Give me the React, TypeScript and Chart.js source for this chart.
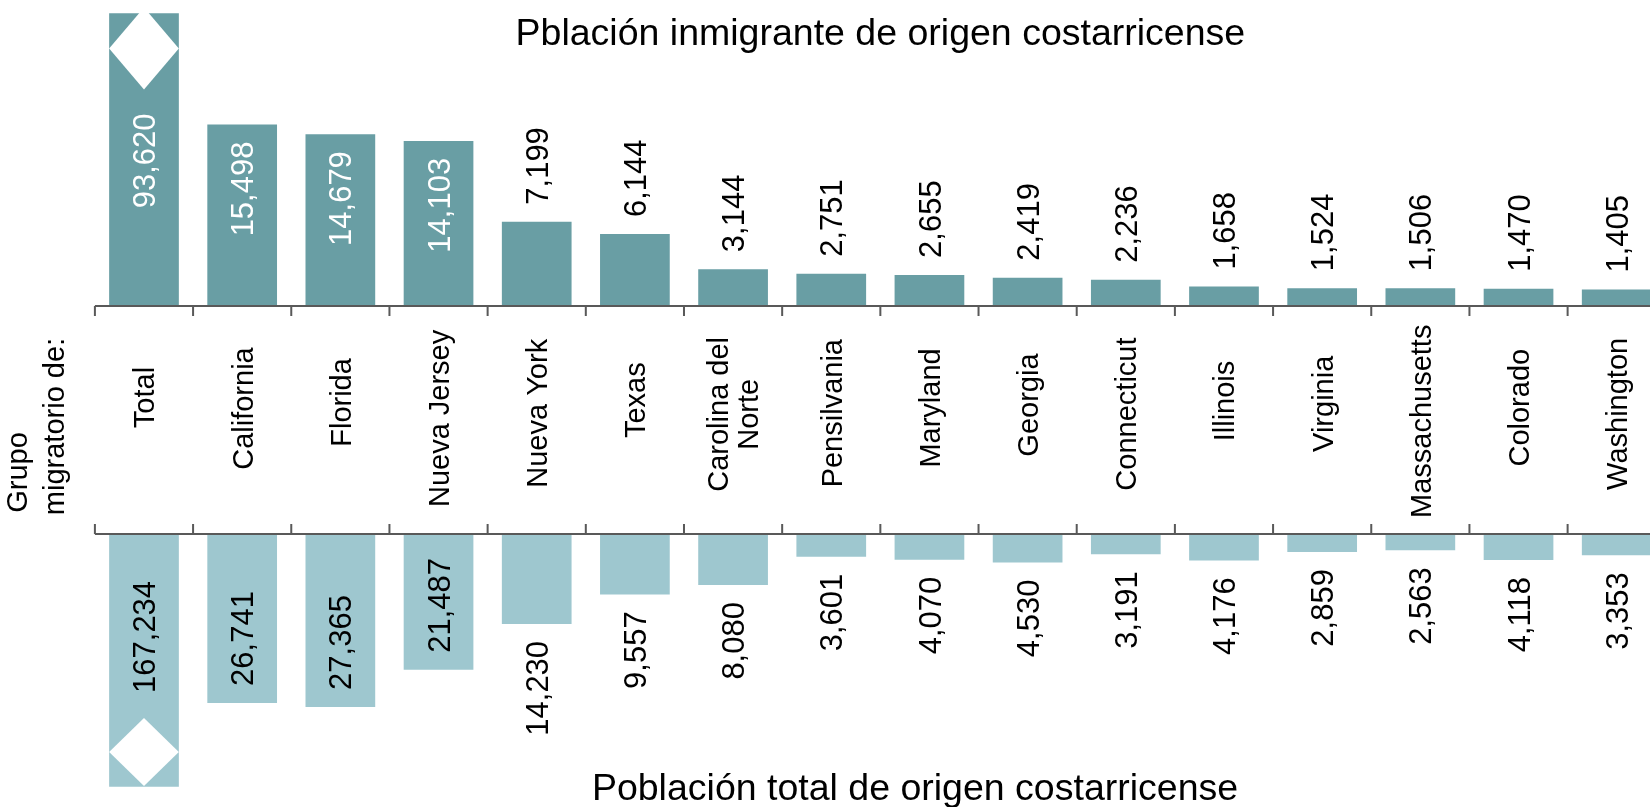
import React, { useEffect, useRef } from "react";
import { Chart, registerables } from "chart.js";

Chart.register(...registerables);

// ---------- data ----------
const categories: (string | string[])[] = [
  "Total",
  "California",
  "Florida",
  "Nueva Jersey",
  "Nueva York",
  "Texas",
  ["Carolina del", "Norte"],
  "Pensilvania",
  "Maryland",
  "Georgia",
  "Connecticut",
  "Illinois",
  "Virginia",
  "Massachusetts",
  "Colorado",
  "Washington",
];
const immigrantValues = [93620, 15498, 14679, 14103, 7199, 6144, 3144, 2751, 2655, 2419, 2236, 1658, 1524, 1506, 1470, 1405];
const totalValues = [167234, 26741, 27365, 21487, 14230, 9557, 8080, 3601, 4070, 4530, 3191, 4176, 2859, 2563, 4118, 3353];

const topTitle = "Pblación inmigrante de origen costarricense";
const bottomTitle = "Población total de origen costarricense";
const axisLabelLines = ["Grupo", "migratorio de:"];

// axis ranges and break markers (values)
const TOP_MAX = 25000;
const BOTTOM_MAX = 40000;
const TOP_BREAK = 22000;
const BOTTOM_BREAK = 34500;

// ---------- layout / style ----------
const W = 1720;
const H = 807;
const PLOT_LEFT = 94.9;
const PLOT_RIGHT = 1665.8;
const PLOT_TOP = 13.3;
const PLOT_BOTTOM = 786.7;
const AXIS_TOP = 306;
const AXIS_BOTTOM = 534;

const TOP_COLOR = "#699EA4";
const BOTTOM_COLOR = "#9EC7CF";
const AXIS_COLOR = "#595959";
const FONT = '"Liberation Sans", Arial, sans-serif';
const VAL_FS = 31;
const CAT_FS = 29;
const TITLE_FS = 37.5;
const GAP = 17;

const fmt = (v: number) => v.toLocaleString("en-US");

function drawRot(
  ctx: CanvasRenderingContext2D,
  text: string,
  cx: number,
  y: number,
  align: CanvasTextAlign,
  color: string,
  fs: number
) {
  ctx.save();
  ctx.font = `${fs}px ${FONT}`;
  ctx.translate(cx + 0.358 * fs, y);
  ctx.rotate(-Math.PI / 2);
  ctx.textAlign = align;
  ctx.textBaseline = "alphabetic";
  ctx.fillStyle = color;
  ctx.fillText(text, 0, 0);
  ctx.restore();
}

const overlayPlugin = {
  id: "overlay",
  afterDatasetsDraw(chart: any) {
    const ctx: CanvasRenderingContext2D = chart.ctx;
    const xs = chart.scales.x;
    const yT = chart.scales.yTop;
    const yB = chart.scales.yBot;
    const area = chart.chartArea;
    const topBars = chart.getDatasetMeta(0).data;
    const botBars = chart.getDatasetMeta(1).data;
    const y0T = yT.getPixelForValue(0);
    const y0B = yB.getPixelForValue(0);
    const catW = xs.getPixelForValue(1) - xs.getPixelForValue(0);

    // break diamonds on the Total bars
    const drawDiamond = (cx: number, cy: number, hw: number, hh: number) => {
      ctx.save();
      ctx.fillStyle = "#ffffff";
      ctx.beginPath();
      ctx.moveTo(cx, cy - hh);
      ctx.lineTo(cx + hw, cy);
      ctx.lineTo(cx, cy + hh);
      ctx.lineTo(cx - hw, cy);
      ctx.closePath();
      ctx.fill();
      ctx.restore();
    };
    const b0 = topBars[0];
    const dTopY = yT.getPixelForValue(TOP_BREAK);
    const dTopHH = 41;
    drawDiamond(b0.x, dTopY, b0.width / 2, dTopHH);
    const c0 = botBars[0];
    const dBotY = yB.getPixelForValue(BOTTOM_BREAK);
    const dBotHH = 34;
    drawDiamond(c0.x, dBotY, c0.width / 2, dBotHH);

    // axis lines and ticks
    ctx.save();
    ctx.strokeStyle = AXIS_COLOR;
    ctx.lineWidth = 2;
    ctx.beginPath();
    ctx.moveTo(area.left, y0T);
    ctx.lineTo(area.right, y0T);
    ctx.moveTo(area.left, y0B);
    ctx.lineTo(area.right, y0B);
    for (let i = 0; i <= categories.length; i++) {
      const bx = xs.getPixelForValue(0) - catW / 2 + i * catW;
      ctx.moveTo(bx, y0T);
      ctx.lineTo(bx, y0T + 10);
      ctx.moveTo(bx, y0B - 10);
      ctx.lineTo(bx, y0B);
    }
    ctx.stroke();
    ctx.restore();

    // value labels
    ctx.save();
    ctx.font = `${VAL_FS}px ${FONT}`;
    for (let i = 0; i < categories.length; i++) {
      const tb = topBars[i];
      const tText = fmt(immigrantValues[i]);
      const tLen = ctx.measureText(tText).width;
      if (i === 0) {
        drawRot(ctx, tText, tb.x, dTopY + dTopHH + 24, "right", "#ffffff", VAL_FS);
      } else if (y0T - tb.y >= tLen + 2 * GAP) {
        drawRot(ctx, tText, tb.x, tb.y + GAP, "right", "#ffffff", VAL_FS);
      } else {
        drawRot(ctx, tText, tb.x, tb.y - GAP, "left", "#000000", VAL_FS);
      }
      const bb = botBars[i];
      const bText = fmt(totalValues[i]);
      const bLen = ctx.measureText(bText).width;
      if (i === 0) {
        drawRot(ctx, bText, bb.x, dBotY - dBotHH - 25, "left", "#000000", VAL_FS);
      } else if (bb.y - y0B >= bLen + 2 * GAP) {
        drawRot(ctx, bText, bb.x, bb.y - GAP, "left", "#000000", VAL_FS);
      } else {
        drawRot(ctx, bText, bb.x, bb.y + GAP, "right", "#000000", VAL_FS);
      }
    }
    ctx.restore();

    // category labels: start-aligned inside a label box wider than the text
    const baseY = 386.5;
    const lineH = 30;
    ctx.save();
    ctx.font = `${CAT_FS}px ${FONT}`;
    for (let i = 0; i < categories.length; i++) {
      const cx = xs.getPixelForValue(i);
      const lab = categories[i];
      const lines = Array.isArray(lab) ? lab : [lab];
      if (lines.length === 1) {
        const L = ctx.measureText(lines[0]).width;
        drawRot(ctx, lines[0], cx, baseY + 0.68 * L, "left", "#000000", CAT_FS);
      } else {
        const Lmax = Math.max(...lines.map((l) => ctx.measureText(l).width));
        const c = baseY + 0.18 * Lmax;
        lines.forEach((ln, k) => {
          const off = (k - (lines.length - 1) / 2) * lineH;
          drawRot(ctx, ln, cx + off, c, "center", "#000000", CAT_FS);
        });
      }
    }
    ctx.restore();

    // left axis label
    ctx.save();
    ctx.font = `${CAT_FS}px ${FONT}`;
    ctx.fillStyle = "#000000";
    ctx.textAlign = "center";
    ctx.textBaseline = "alphabetic";
    const leftPos = [
      { x: 27.4, y: 472.5 },
      { x: 64, y: 426.5 },
    ];
    axisLabelLines.forEach((ln, k) => {
      ctx.save();
      ctx.translate(leftPos[k].x, leftPos[k].y);
      ctx.rotate(-Math.PI / 2);
      ctx.fillText(ln, 0, 0);
      ctx.restore();
    });
    ctx.restore();

    // titles
    ctx.save();
    ctx.font = `${TITLE_FS}px ${FONT}`;
    ctx.fillStyle = "#000000";
    ctx.textAlign = "center";
    ctx.textBaseline = "alphabetic";
    ctx.fillText(topTitle, (area.left + area.right) / 2, 45);
    ctx.fillText(bottomTitle, 915, 800.3);
    ctx.restore();
  },
};

export default function App() {
  const canvasRef = useRef<HTMLCanvasElement | null>(null);

  useEffect(() => {
    if (!canvasRef.current) return;
    const yTopMin = (-TOP_MAX * (PLOT_BOTTOM - AXIS_TOP)) / (AXIS_TOP - PLOT_TOP);
    const yBotMin = (-BOTTOM_MAX * (AXIS_BOTTOM - PLOT_TOP)) / (PLOT_BOTTOM - AXIS_BOTTOM);
    const chart = new Chart(canvasRef.current, {
      type: "bar",
      data: {
        labels: categories as any,
        datasets: [
          {
            label: "Población inmigrante",
            data: immigrantValues,
            yAxisID: "yTop",
            backgroundColor: TOP_COLOR,
            grouped: false,
            barPercentage: 0.71,
            categoryPercentage: 1,
          } as any,
          {
            label: "Población total",
            data: totalValues,
            yAxisID: "yBot",
            backgroundColor: BOTTOM_COLOR,
            grouped: false,
            barPercentage: 0.71,
            categoryPercentage: 1,
          } as any,
        ],
      },
      options: {
        responsive: false,
        animation: false,
        layout: {
          padding: {
            left: PLOT_LEFT,
            right: W - PLOT_RIGHT,
            top: PLOT_TOP,
            bottom: H - PLOT_BOTTOM,
          },
        },
        plugins: {
          legend: { display: false },
          tooltip: { enabled: false },
          title: { display: false },
        },
        scales: {
          x: { display: false, offset: true },
          yTop: { display: false, min: yTopMin, max: TOP_MAX },
          yBot: { display: false, min: yBotMin, max: BOTTOM_MAX, reverse: true },
        },
      },
      plugins: [overlayPlugin],
    });
    return () => chart.destroy();
  }, []);

  return (
    <div
      style={{
        position: "fixed",
        left: 0,
        top: 0,
        width: 1650,
        height: 807,
        overflow: "hidden",
        background: "#ffffff",
      }}
    >
      <canvas ref={canvasRef} width={W} height={H} style={{ display: "block" }} />
    </div>
  );
}
